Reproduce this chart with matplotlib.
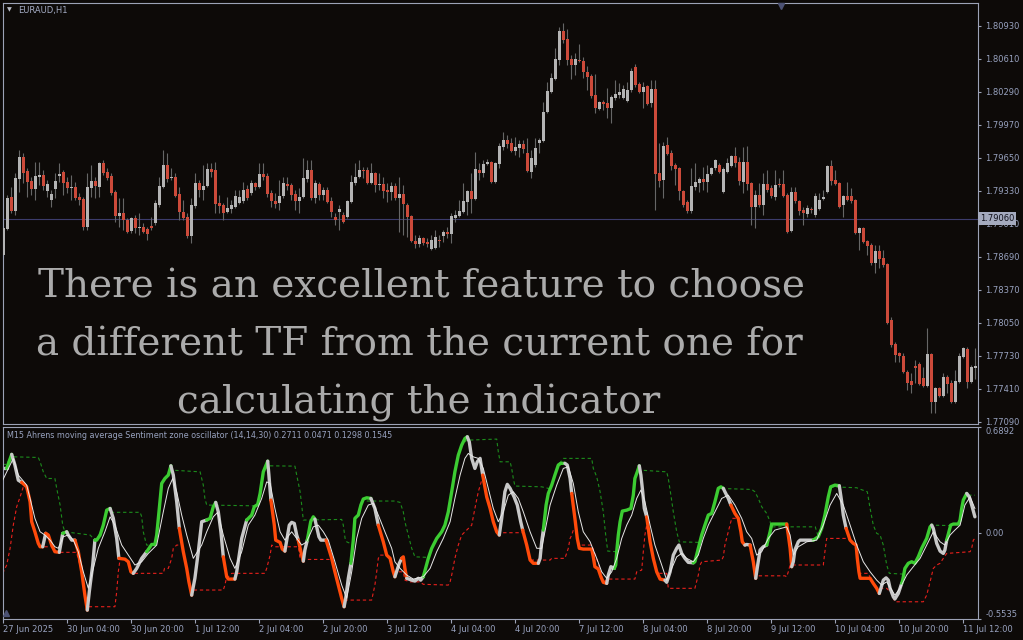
import numpy as np
import matplotlib
matplotlib.use('Agg')
import matplotlib.pyplot as plt

# EURAUD H1 candles, 27 Jun 2025 12:00 .. 11 Jul 2025 (one value per bar)
open_ = [
    1.78707, 1.78959, 1.79269, 1.79133, 1.79444, 1.79656, 1.79521, 1.79424, 1.79347, 1.79463,
    1.79483, 1.79327, 1.79240, 1.79347, 1.79473, 1.79512, 1.79415, 1.79356, 1.79366, 1.79269,
    1.79250, 1.78978, 1.79356, 1.79424, 1.79366, 1.79598, 1.79512, 1.79473, 1.79318, 1.79085,
    1.79114, 1.79046, 1.78939, 1.79066, 1.78968, 1.78978, 1.78959, 1.78988, 1.79017, 1.79192,
    1.79366, 1.79579, 1.79453, 1.79463, 1.79298, 1.79124, 1.79075, 1.78891, 1.79182, 1.79405,
    1.79337, 1.79376, 1.79540, 1.79531, 1.79211, 1.79192, 1.79124, 1.79153, 1.79172, 1.79211,
    1.79230, 1.79347, 1.79308, 1.79405, 1.79366, 1.79492, 1.79473, 1.79308, 1.79230, 1.79211,
    1.79279, 1.79395, 1.79386, 1.79298, 1.79230, 1.79269, 1.79444, 1.79531, 1.79259, 1.79395,
    1.79289, 1.79337, 1.79230, 1.79075, 1.79124, 1.79095, 1.79075, 1.79221, 1.79405, 1.79463,
    1.79531, 1.79531, 1.79405, 1.79502, 1.79386, 1.79395, 1.79337, 1.79318, 1.79376, 1.79259,
    1.79298, 1.79192, 1.79085, 1.78842, 1.78813, 1.78871, 1.78833, 1.78765, 1.78775, 1.78852,
    1.78891, 1.78930, 1.78910, 1.79066, 1.79085, 1.79124, 1.79221, 1.79327, 1.79250, 1.79531,
    1.79502, 1.79589, 1.79608, 1.79415, 1.79589, 1.79753, 1.79821, 1.79792, 1.79714, 1.79743,
    1.79782, 1.79695, 1.79512, 1.79579, 1.79792, 1.79811, 1.80093, 1.80287, 1.80413, 1.80597,
    1.80878, 1.80801, 1.80607, 1.80549, 1.80597, 1.80587, 1.80481, 1.80442, 1.80258, 1.80122,
    1.80190, 1.80180, 1.80132, 1.80228, 1.80258, 1.80228, 1.80199, 1.80306, 1.80529, 1.80364,
    1.80287, 1.80345, 1.80180, 1.80316, 1.79502, 1.79434, 1.79773, 1.79695, 1.79579, 1.79549,
    1.79327, 1.79221, 1.79133, 1.79366, 1.79405, 1.79444, 1.79415, 1.79492, 1.79549, 1.79579,
    1.79318, 1.79512, 1.79569, 1.79666, 1.79608, 1.79415, 1.79608, 1.79405, 1.79172, 1.79289,
    1.79192, 1.79395, 1.79356, 1.79269, 1.79395, 1.79395, 1.79289, 1.78939, 1.79318, 1.79230,
    1.79143, 1.79104, 1.79153, 1.79095, 1.79153, 1.79250, 1.79318, 1.79569, 1.79434, 1.79405,
    1.79192, 1.79279, 1.79279, 1.79240, 1.78920, 1.78968, 1.78842, 1.78804, 1.78629, 1.78745,
    1.78677, 1.78619, 1.78076, 1.77843, 1.77756, 1.77727, 1.77572, 1.77484, 1.77630, 1.77649,
    1.77514, 1.77436, 1.77746, 1.77281, 1.77416, 1.77339, 1.77523, 1.77465, 1.77281, 1.77475,
    1.77717, 1.77795, 1.77475, 1.77610,
]
high = [
    1.78988, 1.79289, 1.79366, 1.79502, 1.79724, 1.79695, 1.79549, 1.79463, 1.79608, 1.79608,
    1.79531, 1.79434, 1.79337, 1.79502, 1.79598, 1.79531, 1.79463, 1.79483, 1.79415, 1.79308,
    1.79269, 1.79502, 1.79579, 1.79463, 1.79608, 1.79627, 1.79549, 1.79502, 1.79337, 1.79259,
    1.79259, 1.79066, 1.79075, 1.79095, 1.79114, 1.79017, 1.78978, 1.79075, 1.79240, 1.79463,
    1.79724, 1.79695, 1.79549, 1.79502, 1.79366, 1.79240, 1.79114, 1.79259, 1.79502, 1.79434,
    1.79579, 1.79598, 1.79598, 1.79608, 1.79289, 1.79211, 1.79269, 1.79240, 1.79337, 1.79337,
    1.79415, 1.79386, 1.79434, 1.79415, 1.79598, 1.79598, 1.79502, 1.79337, 1.79308, 1.79434,
    1.79463, 1.79463, 1.79405, 1.79337, 1.79356, 1.79646, 1.79627, 1.79627, 1.79434, 1.79415,
    1.79366, 1.79366, 1.79269, 1.79114, 1.79192, 1.79124, 1.79240, 1.79483, 1.79598, 1.79627,
    1.79560, 1.79560, 1.79598, 1.79512, 1.79502, 1.79463, 1.79405, 1.79415, 1.79405, 1.79463,
    1.79386, 1.79211, 1.79095, 1.78901, 1.78901, 1.78881, 1.78871, 1.78901, 1.78949, 1.78901,
    1.78949, 1.78978, 1.79114, 1.79143, 1.79240, 1.79405, 1.79337, 1.79502, 1.79705, 1.79598,
    1.79627, 1.79637, 1.79617, 1.79608, 1.79792, 1.79899, 1.79870, 1.79841, 1.79850, 1.79821,
    1.79821, 1.79841, 1.79724, 1.79841, 1.79841, 1.80190, 1.80384, 1.80471, 1.80713, 1.80917,
    1.80956, 1.80897, 1.80646, 1.80665, 1.80752, 1.80626, 1.80539, 1.80461, 1.80461, 1.80199,
    1.80209, 1.80325, 1.80258, 1.80403, 1.80374, 1.80355, 1.80384, 1.80520, 1.80559, 1.80384,
    1.80384, 1.80355, 1.80403, 1.80403, 1.79792, 1.79802, 1.79850, 1.79724, 1.79598, 1.79560,
    1.79337, 1.79240, 1.79549, 1.79598, 1.79463, 1.79560, 1.79579, 1.79560, 1.79637, 1.79598,
    1.79560, 1.79646, 1.79676, 1.79753, 1.79656, 1.79753, 1.79763, 1.79415, 1.79337, 1.79405,
    1.79502, 1.79531, 1.79386, 1.79531, 1.79453, 1.79531, 1.79308, 1.79366, 1.79366, 1.79240,
    1.79172, 1.79192, 1.79172, 1.79308, 1.79308, 1.79337, 1.79579, 1.79627, 1.79531, 1.79415,
    1.79289, 1.79415, 1.79356, 1.79250, 1.78978, 1.78978, 1.78852, 1.78823, 1.78804, 1.78804,
    1.78755, 1.78629, 1.78105, 1.77863, 1.77766, 1.77756, 1.77591, 1.77562, 1.77688, 1.77669,
    1.77620, 1.77998, 1.77756, 1.77426, 1.77426, 1.77562, 1.77543, 1.77494, 1.77591, 1.77756,
    1.77814, 1.77814, 1.77640, 1.77804,
]
low = [
    1.78687, 1.78949, 1.79114, 1.79095, 1.79318, 1.79405, 1.79269, 1.79289, 1.79240, 1.79386,
    1.79337, 1.79269, 1.79172, 1.79259, 1.79415, 1.79289, 1.79308, 1.79240, 1.79240, 1.79192,
    1.78949, 1.78949, 1.79269, 1.79259, 1.79269, 1.79483, 1.79434, 1.79289, 1.79027, 1.78978,
    1.78949, 1.78920, 1.78920, 1.78920, 1.78901, 1.78920, 1.78852, 1.78949, 1.78998, 1.79172,
    1.79356, 1.79415, 1.79434, 1.79269, 1.79046, 1.79046, 1.78871, 1.78823, 1.79163, 1.79269,
    1.79240, 1.79366, 1.79463, 1.79114, 1.79114, 1.79046, 1.79114, 1.79114, 1.79163, 1.79201,
    1.79211, 1.79240, 1.79289, 1.79337, 1.79356, 1.79434, 1.79269, 1.79172, 1.79163, 1.79143,
    1.79259, 1.79337, 1.79240, 1.79143, 1.79114, 1.79259, 1.79415, 1.79240, 1.79211, 1.79240,
    1.79240, 1.79211, 1.79075, 1.78998, 1.78949, 1.79017, 1.79066, 1.79211, 1.79386, 1.79453,
    1.79453, 1.79395, 1.79395, 1.79318, 1.79337, 1.79259, 1.79221, 1.79240, 1.79240, 1.78930,
    1.78901, 1.78881, 1.78833, 1.78775, 1.78784, 1.78804, 1.78784, 1.78755, 1.78765, 1.78784,
    1.78833, 1.78871, 1.78823, 1.79027, 1.79075, 1.79114, 1.79095, 1.79114, 1.79240, 1.79434,
    1.79463, 1.79579, 1.79405, 1.79405, 1.79549, 1.79724, 1.79743, 1.79705, 1.79676, 1.79656,
    1.79695, 1.79512, 1.79453, 1.79560, 1.79695, 1.79802, 1.80083, 1.80277, 1.80403, 1.80549,
    1.80762, 1.80549, 1.80413, 1.80452, 1.80578, 1.80422, 1.80306, 1.80228, 1.80083, 1.80112,
    1.80112, 1.80035, 1.79986, 1.80209, 1.80228, 1.80219, 1.80190, 1.80287, 1.80335, 1.80277,
    1.80132, 1.80161, 1.80141, 1.79143, 1.79366, 1.79259, 1.79676, 1.79531, 1.79386, 1.79240,
    1.79172, 1.79114, 1.79114, 1.79337, 1.79318, 1.79337, 1.79318, 1.79483, 1.79531, 1.79502,
    1.79308, 1.79502, 1.79560, 1.79560, 1.79386, 1.79308, 1.79337, 1.78998, 1.78968, 1.79172,
    1.79095, 1.79318, 1.79259, 1.79240, 1.79366, 1.79269, 1.78920, 1.78930, 1.79211, 1.79095,
    1.78998, 1.79075, 1.79114, 1.79075, 1.79143, 1.79240, 1.79308, 1.79386, 1.79386, 1.79163,
    1.79075, 1.79230, 1.79211, 1.78910, 1.78755, 1.78823, 1.78707, 1.78610, 1.78532, 1.78580,
    1.78590, 1.78037, 1.77814, 1.77669, 1.77669, 1.77562, 1.77397, 1.77368, 1.77465, 1.77446,
    1.77426, 1.77426, 1.77174, 1.77174, 1.77329, 1.77329, 1.77368, 1.77271, 1.77271, 1.77465,
    1.77708, 1.77416, 1.77465, 1.77504,
]
close = [
    1.78968, 1.79259, 1.79133, 1.79453, 1.79656, 1.79502, 1.79415, 1.79347, 1.79473, 1.79483,
    1.79376, 1.79395, 1.79298, 1.79424, 1.79492, 1.79405, 1.79356, 1.79366, 1.79259, 1.79240,
    1.78978, 1.79366, 1.79424, 1.79376, 1.79598, 1.79502, 1.79453, 1.79308, 1.79085, 1.79114,
    1.79046, 1.78930, 1.79066, 1.78968, 1.78978, 1.78930, 1.78910, 1.78968, 1.79211, 1.79376,
    1.79579, 1.79444, 1.79463, 1.79279, 1.79124, 1.79066, 1.78891, 1.79192, 1.79405, 1.79337,
    1.79376, 1.79540, 1.79512, 1.79201, 1.79182, 1.79114, 1.79163, 1.79192, 1.79279, 1.79269,
    1.79337, 1.79259, 1.79405, 1.79366, 1.79492, 1.79463, 1.79298, 1.79230, 1.79201, 1.79279,
    1.79405, 1.79376, 1.79289, 1.79230, 1.79269, 1.79453, 1.79531, 1.79259, 1.79405, 1.79289,
    1.79337, 1.79221, 1.79124, 1.79046, 1.79153, 1.79027, 1.79230, 1.79415, 1.79463, 1.79531,
    1.79521, 1.79405, 1.79502, 1.79386, 1.79395, 1.79327, 1.79318, 1.79376, 1.79259, 1.79298,
    1.79201, 1.79075, 1.78842, 1.78813, 1.78871, 1.78823, 1.78813, 1.78852, 1.78881, 1.78842,
    1.78930, 1.78910, 1.79085, 1.79095, 1.79133, 1.79230, 1.79327, 1.79250, 1.79540, 1.79502,
    1.79589, 1.79608, 1.79415, 1.79598, 1.79763, 1.79821, 1.79782, 1.79714, 1.79753, 1.79782,
    1.79734, 1.79521, 1.79646, 1.79743, 1.79821, 1.80093, 1.80296, 1.80422, 1.80607, 1.80878,
    1.80791, 1.80597, 1.80549, 1.80607, 1.80587, 1.80481, 1.80432, 1.80248, 1.80132, 1.80190,
    1.80170, 1.80132, 1.80238, 1.80267, 1.80287, 1.80316, 1.80306, 1.80490, 1.80355, 1.80287,
    1.80335, 1.80170, 1.80316, 1.79492, 1.79424, 1.79763, 1.79685, 1.79569, 1.79540, 1.79327,
    1.79192, 1.79133, 1.79376, 1.79415, 1.79444, 1.79415, 1.79492, 1.79549, 1.79627, 1.79512,
    1.79540, 1.79598, 1.79666, 1.79598, 1.79424, 1.79608, 1.79395, 1.79172, 1.79289, 1.79192,
    1.79395, 1.79337, 1.79279, 1.79386, 1.79386, 1.79279, 1.78930, 1.79318, 1.79230, 1.79133,
    1.79114, 1.79163, 1.79143, 1.79279, 1.79240, 1.79269, 1.79569, 1.79424, 1.79395, 1.79172,
    1.79279, 1.79240, 1.79230, 1.78920, 1.78968, 1.78833, 1.78794, 1.78629, 1.78745, 1.78668,
    1.78610, 1.78047, 1.77834, 1.77737, 1.77727, 1.77572, 1.77465, 1.77446, 1.77610, 1.77455,
    1.77436, 1.77746, 1.77281, 1.77416, 1.77339, 1.77523, 1.77455, 1.77281, 1.77484, 1.77727,
    1.77804, 1.77475, 1.77620, 1.77630,
]
bid_price = 1.79060
price_ticks = [1.80930, 1.80610, 1.80290, 1.79970, 1.79650, 1.79330, 1.79010,
               1.78690, 1.78370, 1.78050, 1.77730, 1.77410, 1.77090]

time_ticks = list(range(0, 241, 16))
time_labels = ['27 Jun 2025', '30 Jun 04:00', '30 Jun 20:00', '1 Jul 12:00', '2 Jul 04:00',
               '2 Jul 20:00', '3 Jul 12:00', '4 Jul 04:00', '4 Jul 20:00', '7 Jul 12:00',
               '8 Jul 04:00', '8 Jul 20:00', '9 Jul 12:00', '10 Jul 04:00', '10 Jul 20:00',
               '11 Jul 12:00']

# oscillator main line: bar position, value, colour of the segment leaving the point
osc_b = [
    -0.15,
    0.85,
    2.1, 2.9, 3.75,
    4.6, 5.85, 6.7, 7.1, 7.9, 8.75, 9.2,
    9.85,
    10.6, 11.25, 12.1, 12.9,
    14.0,
    14.85,
    15.85, 16.25, 17.1,
    17.9, 18.75, 19.6, 20.4,
    21.0, 21.5, 22.35,
    22.9, 23.35, 24.2, 25.0, 25.85,
    26.7, 27.5, 28.35,
    28.9, 30.4, 31.25, 31.9,
    32.5, 33.35, 34.6,
    35.85, 37.1, 37.9, 38.35, 39.0, 39.6, 40.4, 41.25,
    41.9, 42.5, 43.35,
    44.0, 45.0, 45.85, 46.4,
    47.1, 47.9, 48.75, 49.6,
    50.85, 51.7, 52.5,
    53.1, 53.75, 54.4,
    55.0, 55.85, 56.25,
    57.9, 58.35, 59.6,
    60.85, 62.1, 62.75, 63.6, 64.2, 65.0,
    66.1, 66.4,
    66.9, 67.75, 68.1, 69.2, 69.75,
    70.4, 71.5, 72.1, 72.75, 73.35,
    73.75, 74.4,
    75.0, 75.4,
    76.0, 76.85, 77.5,
    77.9, 78.9, 79.4,
    80.7, 82.1, 82.9, 83.75, 84.6,
    85.2, 85.6, 86.25,
    86.9, 87.5, 87.9, 88.75, 89.4, 90.0, 90.85,
    91.9, 92.9,
    93.75, 95.0, 95.85, 96.7, 97.5,
    97.9, 99.0,
    99.6, 100.0, 100.4,
    100.85, 102.1, 102.9, 103.75, 104.35,
    105.0, 106.25, 107.1, 108.35, 109.6, 110.4, 111.25, 112.1, 112.9, 113.75, 114.6, 115.4,
    116.0, 116.5, 117.1, 117.9, 118.5, 119.2,
    119.85, 120.85, 121.7, 122.5, 123.35,
    124.0, 124.6, 125.4, 126.0, 126.7, 127.7, 128.5, 129.35,
    129.85, 130.85, 131.7, 132.5,
    133.75, 134.2, 134.6,
    135.0, 135.7, 136.25, 137.1, 137.9, 138.75, 139.35,
    140.4, 141.0, 141.7,
    142.1, 142.9, 143.5, 144.0, 145.0, 147.1, 147.5, 147.9, 148.75, 149.4, 150.0,
    150.85, 151.25, 151.9,
    152.75, 153.1, 153.35, 153.75, 154.2, 154.75, 155.85, 156.9, 157.5, 157.9, 158.5,
    159.0, 159.4, 159.85, 160.25,
    160.85, 161.7, 162.5, 163.35, 164.2,
    165.4, 165.85, 166.7, 167.5, 168.35, 168.9, 169.6, 170.4, 171.25,
    172.5, 172.9, 173.75, 174.6, 175.4, 176.25, 177.1, 177.9, 178.75, 179.4,
    180.0, 180.4, 181.25,
    181.9, 182.9, 183.75, 184.4, 184.75,
    185.4, 185.85,
    186.7, 187.5,
    188.1, 188.6, 189.2, 190.0,
    190.85, 191.7, 192.1,
    195.85, 196.25, 196.7,
    197.1, 197.5, 197.9, 198.75, 199.2,
    202.5, 203.75, 204.6, 205.4, 206.25, 206.85, 207.9,
    209.0, 209.6, 210.0,
    210.7, 211.7, 212.5, 213.2, 213.5, 213.9, 214.2, 216.7, 217.5, 218.35,
    219.0, 219.4, 220.0, 220.7, 221.25, 221.7, 222.5, 222.9, 223.75,
    224.6, 224.85, 225.4, 226.25, 227.1, 227.9, 228.75, 229.6, 230.85, 231.7,
    232.1, 232.5, 233.35, 234.2, 235.0, 235.4,
    235.85, 236.85, 237.5, 238.75, 239.2, 239.6, 240.0,
    240.85, 241.5, 242.1, 242.9,
]
osc_v = [
    0.421,
    0.421,
    0.512, 0.443, 0.345,
    0.331, 0.302, 0.205, 0.076, 0.011, -0.064, -0.086,
    -0.086,
    0.001, -0.010, -0.075, -0.118,
    -0.122,
    0.001,
    0.011, -0.010, -0.043,
    -0.043, -0.118, -0.248, -0.399,
    -0.496, -0.377, -0.204,
    -0.043, -0.043, -0.010, 0.054, 0.151,
    0.162, 0.098, -0.032,
    -0.161, -0.166, -0.183, -0.248,
    -0.258, -0.226, -0.161,
    -0.118, -0.071, -0.071, -0.010, 0.162, 0.324, 0.356, 0.378,
    0.438, 0.378, 0.205,
    0.033, -0.118, -0.226, -0.313,
    -0.399, -0.290, -0.118, 0.076,
    0.087, 0.098, 0.173,
    0.201, 0.140, 0.011,
    -0.151, -0.280, -0.295,
    -0.295, -0.248, -0.032,
    0.087, 0.119, 0.173, 0.188, 0.259, 0.399,
    0.468, 0.378,
    0.216, 0.054, -0.043, -0.058, -0.101,
    -0.114, 0.054, 0.072, 0.065, -0.010,
    -0.043, -0.118,
    -0.179, -0.107,
    -0.043, 0.076, 0.108,
    0.093, -0.021, -0.043,
    -0.043, -0.161, -0.248, -0.334, -0.420,
    -0.474, -0.420, -0.290,
    -0.193, -0.043, 0.098, 0.119, 0.184, 0.223, 0.231,
    0.227, 0.162,
    0.054, -0.054, -0.140, -0.161, -0.248,
    -0.280, -0.193,
    -0.161, -0.151, -0.226,
    -0.290, -0.302, -0.308, -0.290, -0.302,
    -0.280, -0.161, -0.096, -0.032, 0.011, 0.054, 0.140, 0.270, 0.399, 0.507, 0.572, 0.615,
    0.626, 0.593, 0.486, 0.421, 0.464, 0.486,
    0.378, 0.237, 0.162, 0.076, 0.011,
    -0.010, 0.098, 0.270, 0.318, 0.292, 0.237, 0.184, 0.076,
    0.022, -0.075, -0.172, -0.193,
    -0.193, -0.161, -0.054,
    0.022, 0.184, 0.259, 0.313, 0.378, 0.443, 0.454,
    0.454, 0.443, 0.356,
    0.259, 0.098, -0.032, -0.096, -0.101, -0.101, -0.151, -0.215, -0.230, -0.280, -0.316,
    -0.323, -0.269, -0.215,
    -0.226, -0.204, -0.118, -0.010, 0.076, 0.145, 0.151, 0.162, 0.248, 0.356, 0.399,
    0.438, 0.378, 0.270, 0.162,
    0.108, -0.054, -0.161, -0.248, -0.295,
    -0.302, -0.316, -0.248, -0.140, -0.096, -0.075, -0.129, -0.161, -0.187,
    -0.190, -0.183, -0.096, -0.010, 0.054, 0.119, 0.130, 0.205, 0.292, 0.302,
    0.292, 0.270, 0.227,
    0.184, 0.130, 0.098, 0.011, -0.054,
    -0.075, -0.071,
    -0.075, -0.183,
    -0.290, -0.204, -0.107, -0.086,
    -0.075, 0.011, 0.061,
    0.061, -0.010, -0.096,
    -0.215, -0.183, -0.107, -0.054, -0.043,
    -0.043, -0.021, 0.033, 0.119, 0.237, 0.302, 0.313,
    0.309, 0.205, 0.119,
    0.033, -0.043, -0.064, -0.075, -0.161, -0.248, -0.290, -0.290, -0.323, -0.355,
    -0.388, -0.355, -0.302, -0.287, -0.302, -0.355, -0.410, -0.424, -0.388,
    -0.323, -0.302, -0.226, -0.193, -0.183, -0.193, -0.151, -0.096, -0.032, 0.043,
    0.054, 0.033, -0.064, -0.114, -0.129, -0.107,
    -0.043, 0.054, 0.061, 0.061, 0.087, 0.162, 0.216,
    0.259, 0.237, 0.184, 0.108,
]
osc_runs = ['w', 'g', 'www', 'rrrrrrr', 'w', 'rrrr', 'w', 'g', 'www', 'rrrr', 'www', 'ggggg',
            'www', 'rrrr', 'www', 'gggggggg', 'www', 'rrrr', 'wwww', 'ggg', 'www', 'rrr', 'www',
            'gggggg', 'ww', 'rrrrr', 'wwwww', 'rr', 'ww', 'ggg', 'www', 'rrrrr', 'www', 'ggggggg',
            'ww', 'rrrrr', 'ww', 'rrr', 'wwwww', 'gggggggggggg', 'wwwwww', 'rrrrr', 'wwwwwwww',
            'rrrr', 'www', 'ggggggg', 'www', 'rrrrrrrrrrr', 'www', 'ggggggggggg', 'wwww', 'rrrrr',
            'wwwwwwwww', 'gggggggggg', 'www', 'rrrrr', 'ww', 'rr', 'wwww', 'ggg', 'rrr', 'wwwww',
            'ggggggg', 'www', 'rrrrrrrrrr', 'wwwwwwwww', 'gggggggggg', 'wwwwww', 'ggggggg', 'wwww']

# signal line
sig_b = [-0.15, 2.5, 3.75, 5.85, 7.1, 7.9, 9.2, 10.4, 11.7, 12.9, 13.75, 15.0, 16.25, 17.5,
         18.75, 20.0, 21.25, 22.5, 23.75, 25.4, 26.7, 27.9, 29.6, 31.25, 32.9, 34.6, 36.25,
         38.35, 40.0, 41.25, 42.35, 43.35, 44.6, 45.85, 47.5, 49.6, 50.85, 52.5, 53.6, 55.0,
         56.7, 57.9, 59.6, 61.25, 62.9, 64.6, 65.85, 66.7, 67.9, 69.2, 70.4, 72.1, 73.35, 74.6,
         75.85, 77.5, 78.75, 80.0, 81.25, 82.9, 84.6, 85.85, 87.1, 88.35, 89.6, 91.25, 92.5,
         93.75, 95.4, 97.1, 97.9, 99.2, 100.85, 102.5, 105.0, 106.7, 108.35, 110.0, 111.7,
         112.9, 114.2, 115.4, 116.25, 117.5, 118.75, 120.0, 121.25, 122.5, 123.75, 125.0,
         126.25, 127.5, 128.75, 130.0, 131.7, 133.35, 134.6, 135.4, 136.7, 138.35, 140.0,
         141.25, 142.5, 143.75, 145.0, 146.7, 148.35, 149.6, 150.85, 152.1, 153.35, 154.6,
         155.85, 157.1, 158.35, 159.4, 160.4, 161.7, 162.9, 164.6, 165.85, 167.1, 168.35,
         169.6, 170.85, 172.5, 173.75, 175.0, 176.25, 177.9, 179.6, 181.25, 182.9, 184.6,
         185.85, 187.1, 188.35, 189.6, 191.25, 192.9, 195.85, 196.7, 197.5, 198.75, 200.85,
         203.35, 205.0, 206.7, 208.35, 210.0, 211.7, 213.35, 215.0, 216.7, 218.35, 219.6,
         220.85, 222.1, 222.9, 224.2, 225.85, 227.5, 229.2, 230.85, 232.5, 234.2, 235.4,
         236.7, 237.9, 239.2, 240.4, 241.7, 242.9]
sig_v = [0.345, 0.486, 0.378, 0.313, 0.184, 0.098, 0.011, -0.010, -0.043, -0.086, -0.096,
         -0.021, -0.010, -0.043, -0.118, -0.248, -0.355, -0.226, -0.096, 0.011, 0.108, 0.054,
         -0.075, -0.140, -0.204, -0.183, -0.129, -0.075, 0.140, 0.292, 0.356, 0.270, 0.119,
         -0.010, -0.161, -0.075, 0.011, 0.108, 0.137, -0.010, -0.161, -0.226, -0.118, 0.054,
         0.119, 0.227, 0.334, 0.324, 0.162, 0.011, -0.043, 0.011, -0.032, -0.075, -0.054,
         0.043, 0.054, 0.011, -0.043, -0.183, -0.334, -0.420, -0.248, -0.032, 0.098, 0.184,
         0.195, 0.119, 0.011, -0.096, -0.183, -0.226, -0.269, -0.295, -0.280, -0.226, -0.118,
         -0.032, 0.076, 0.227, 0.378, 0.486, 0.518, 0.496, 0.486, 0.421, 0.292, 0.162, 0.076,
         0.140, 0.248, 0.270, 0.227, 0.140, 0.011, -0.096, -0.096, 0.011, 0.184, 0.313, 0.421,
         0.432, 0.324, 0.140, 0.011, -0.054, -0.161, -0.248, -0.290, -0.248, -0.161, -0.032,
         0.054, 0.119, 0.227, 0.281, 0.205, 0.054, -0.075, -0.204, -0.302, -0.226, -0.151,
         -0.129, -0.161, -0.183, -0.140, -0.032, 0.054, 0.140, 0.227, 0.248, 0.184, 0.098,
         0.011, -0.032, -0.140, -0.118, -0.032, 0.022, 0.043, -0.010, -0.140, -0.086, -0.054,
         -0.043, 0.054, 0.184, 0.259, 0.184, 0.054, -0.075, -0.183, -0.248, -0.302, -0.334,
         -0.313, -0.366, -0.399, -0.355, -0.269, -0.215, -0.161, -0.075, 0.011, -0.054,
         -0.075, -0.010, 0.022, 0.054, 0.184, 0.237, 0.162]

# upper sentiment zone (green dashed)
up_b = [-0.15, 0.85, 2.1, 2.9, 8.75, 9.2, 10.0, 10.85, 12.9, 13.35, 14.2, 14.85, 15.4, 21.7,
        22.5, 23.35, 25.0, 25.85, 34.2, 34.6, 35.0, 35.6, 35.85, 37.1, 37.9, 38.35, 39.0,
        39.6, 40.4, 41.25, 42.1, 49.2, 50.0, 50.4, 50.85, 62.9, 63.6, 64.2, 65.0, 66.25,
        72.9, 73.35, 74.2, 74.6, 75.0, 84.6, 85.0, 85.45, 85.85, 86.7, 87.3, 87.5, 87.9,
        88.75, 89.4, 90.0, 97.9, 99.2, 100.0, 100.4, 101.25, 102.1, 102.9, 106.25, 107.1,
        108.35, 109.6, 110.4, 111.25, 112.1, 112.9, 113.75, 114.6, 115.85, 123.35, 123.75,
        124.2, 126.7, 127.1, 127.5, 127.9, 134.6, 136.6, 137.1, 137.9, 138.75, 140.0, 147.1,
        147.5, 148.35, 149.2, 150.0, 150.6, 151.1, 153.3, 153.75, 154.2, 154.75, 155.85,
        156.9, 157.5, 157.9, 158.5, 159.2, 165.85, 166.25, 166.9, 167.5, 168.35, 169.0,
        174.3, 174.6, 175.4, 176.25, 177.1, 177.9, 178.75, 187.1, 187.9, 188.75, 189.6,
        190.85, 191.7, 192.1, 203.0, 203.35, 203.75, 204.6, 205.4, 206.25, 207.1, 213.35,
        214.2, 216.0, 216.7, 217.5, 218.35, 219.2, 220.0, 220.85, 221.5, 225.0, 225.4,
        226.25, 227.1, 227.9, 228.75, 229.6, 230.85, 231.7, 232.1, 236.9, 237.5, 238.75,
        239.2, 239.6, 240.0, 240.85, 242.9]
up_v = [0.447, 0.447, 0.512, 0.496, 0.492, 0.464, 0.399, 0.356, 0.356, 0.292, 0.184, 0.054,
        0.011, -0.010, -0.032, -0.043, 0.054, 0.137, 0.137, 0.108, 0.011, -0.054, -0.075,
        -0.075, -0.071, -0.010, 0.162, 0.324, 0.356, 0.378, 0.410, 0.399, 0.313, 0.227,
        0.184, 0.179, 0.188, 0.259, 0.399, 0.438, 0.436, 0.378, 0.270, 0.184, 0.087, 0.091,
        0.054, -0.032, -0.054, -0.064, -0.064, -0.043, 0.098, 0.119, 0.184, 0.210, 0.210,
        0.201, 0.140, 0.076, -0.010, -0.096, -0.151, -0.155, -0.096, -0.032, 0.011, 0.054,
        0.140, 0.270, 0.399, 0.507, 0.572, 0.604, 0.611, 0.529, 0.464, 0.464, 0.421, 0.356,
        0.307, 0.302, 0.290, 0.313, 0.378, 0.443, 0.486, 0.486, 0.421, 0.367, 0.270, 0.140,
        -0.010, -0.114, -0.118, -0.010, 0.076, 0.145, 0.151, 0.162, 0.248, 0.356, 0.399,
        0.410, 0.399, 0.356, 0.248, 0.140, 0.011, -0.054, -0.058, -0.010, 0.054, 0.119,
        0.130, 0.205, 0.292, 0.285, 0.270, 0.227, 0.173, 0.130, 0.076, 0.043, 0.043, 0.011,
        -0.021, 0.033, 0.119, 0.237, 0.302, 0.296, 0.287, 0.270, 0.162, 0.054, 0.001,
        -0.010, -0.075, -0.204, -0.258, -0.263, -0.226, -0.193, -0.183, -0.183, -0.151,
        -0.096, -0.032, 0.043, 0.054, 0.051, 0.061, 0.061, 0.087, 0.162, 0.216, 0.248, 0.248]

# lower sentiment zone (red dashed)
lo_b = [-0.15, 0.85, 1.7, 2.5, 3.35, 4.2, 5.0, 5.85, 6.7, 7.1, 7.9, 8.75, 9.2, 12.0, 12.9,
        14.0, 18.3, 19.6, 20.4, 21.0, 27.9, 28.35, 28.75, 29.2, 30.4, 31.25, 31.9, 32.5,
        40.0, 40.3, 41.25, 42.1, 42.5, 43.35, 44.6, 45.0, 45.85, 46.4, 47.1, 55.0, 55.4,
        55.85, 56.25, 57.1, 65.4, 65.85, 66.7, 67.1, 67.9, 73.75, 74.2, 74.6, 81.25, 82.1,
        82.9, 83.75, 84.6, 85.4, 92.1, 92.9, 93.35, 93.75, 94.2, 95.85, 96.7, 97.5, 100.0,
        100.4, 101.7, 104.2, 105.0, 111.25, 111.7, 112.1, 112.9, 113.75, 114.6, 115.85,
        117.1, 117.9, 118.75, 119.6, 120.3, 120.85, 121.7, 122.5, 123.35, 124.0, 130.0,
        130.85, 131.7, 136.7, 137.1, 140.4, 141.25, 141.7, 142.1, 142.5, 143.3, 143.5,
        144.0, 147.1, 148.75, 150.0, 151.25, 157.9, 158.35, 159.6, 160.0, 160.4, 160.85,
        161.7, 162.5, 163.35, 164.2, 165.85, 166.25, 172.9, 173.75, 174.2, 174.6, 179.6,
        180.0, 180.4, 181.25, 182.1, 183.75, 184.4, 184.75, 185.4, 186.7, 187.5, 188.1,
        195.4, 195.85, 196.25, 196.7, 205.0, 205.4, 205.85, 210.85, 211.7, 212.5, 213.2,
        213.5, 213.9, 214.2, 216.2, 217.5, 218.35, 220.85, 222.1, 222.9, 230.0, 230.85,
        231.7, 232.5, 233.35, 234.2, 235.0, 235.85, 241.7, 242.1, 242.5, 242.9]
lo_v = [-0.258, -0.204, -0.096, 0.054, 0.173, 0.237, 0.302, 0.302, 0.205, 0.076, 0.011,
        -0.064, -0.086, -0.086, -0.118, -0.122, -0.122, -0.248, -0.399, -0.474, -0.474,
        -0.377, -0.248, -0.166, -0.166, -0.183, -0.248, -0.258, -0.258, -0.226, -0.226,
        -0.161, -0.096, -0.075, -0.075, -0.118, -0.226, -0.313, -0.366, -0.366, -0.334,
        -0.280, -0.280, -0.258, -0.258, -0.226, -0.140, -0.075, -0.086, -0.086, -0.161,
        -0.168, -0.168, -0.168, -0.248, -0.334, -0.420, -0.431, -0.431, -0.334, -0.248,
        -0.161, -0.140, -0.140, -0.161, -0.248, -0.248, -0.302, -0.313, -0.313, -0.329,
        -0.334, -0.313, -0.269, -0.161, -0.075, -0.010, 0.022, 0.054, 0.162, 0.270, 0.345,
        0.345, 0.237, 0.162, 0.076, 0.011, 0.005, 0.005, -0.075, -0.172, -0.172, -0.161,
        -0.161, -0.096, -0.032, -0.010, 0.022, 0.022, -0.032, -0.075, -0.075, -0.193,
        -0.313, -0.295, -0.295, -0.248, -0.237, -0.118, -0.010, 0.054, -0.054, -0.161,
        -0.248, -0.258, -0.258, -0.355, -0.355, -0.269, -0.204, -0.183, -0.172, -0.151,
        -0.075, 0.011, 0.098, 0.098, 0.011, -0.054, -0.075, -0.075, -0.183, -0.274, -0.274,
        -0.280, -0.248, -0.204, -0.204, -0.118, -0.032, -0.032, -0.043, -0.064, -0.075,
        -0.161, -0.248, -0.258, -0.258, -0.323, -0.355, -0.355, -0.388, -0.442, -0.442,
        -0.399, -0.313, -0.226, -0.204, -0.193, -0.161, -0.129, -0.118, -0.096, -0.043,
        -0.032]

osc_top, osc_bottom = 0.6892, -0.5535

BG = '#0d0a08'
SPINE = '#9ca2b6'
TXT = '#98a2bf'
UP = '#b4b4b4'
DOWN = '#cc4a3a'
WICK = '#666666'
OSC_COL = {'g': '#3ccc32', 'r': '#ff4a0a', 'w': '#c8c8c8'}

W, H = 1023, 640
fig = plt.figure(figsize=(W / 100, H / 100), dpi=100, facecolor=BG)
ax = fig.add_axes([2.5 / W, 1 - 424 / H, 975 / W, 421 / H])
osc = fig.add_axes([2.5 / W, 1 - 619 / H, 975 / W, 192 / H])

for a in (ax, osc):
    a.set_facecolor(BG)
    for s in a.spines.values():
        s.set_color(SPINE)
        s.set_linewidth(0.8)
    a.set_xlim(-0.2, 243.55)

# candles
o = np.array(open_)
c = np.array(close)
n = min(len(o), len(c), len(high), len(low))
o, c = o[:n], c[:n]
hi = np.maximum(np.array(high[:n]), np.maximum(o, c))
lo = np.minimum(np.array(low[:n]), np.minimum(o, c))
idx = np.arange(n)
up = c >= o
ax.vlines(idx, lo, hi, color=WICK, lw=0.8, zorder=2)
body_bottom = np.minimum(o, c)
body_h = np.maximum(np.abs(c - o), 0.00008)
ax.bar(idx, body_h, bottom=body_bottom, width=0.75,
       color=np.where(up, UP, DOWN), linewidth=0, zorder=3)

ax.axhline(bid_price, color='#3c3c6c', lw=0.8, zorder=1)
ax.set_ylim(1.77068, 1.81150)
ax.set_xticks([])
ax.yaxis.tick_right()
ax.set_yticks(price_ticks)
ax.set_yticklabels([f'{p:.5f}' for p in price_ticks])
ax.tick_params(axis='y', colors=SPINE, labelcolor=TXT, labelsize=6, length=2.5,
               width=0.8, pad=3)
ax.text(1.0025, bid_price, f'{bid_price:.5f}', transform=ax.get_yaxis_transform(),
        ha='left', va='center', fontsize=6, color='#10101a', zorder=10, clip_on=False,
        bbox=dict(boxstyle='square,pad=0.25', fc='#a4aabe', ec='none'))

# oscillator
osc.plot(up_b[:min(len(up_b), len(up_v))], up_v[:min(len(up_b), len(up_v))],
         color='#1c8c1c', lw=0.8, ls=(0, (3, 2.5)), zorder=1)
osc.plot(lo_b[:min(len(lo_b), len(lo_v))], lo_v[:min(len(lo_b), len(lo_v))],
         color='#e8201c', lw=0.8, ls=(0, (3, 2.5)), zorder=1)

codes = ''.join(osc_runs)
m = min(len(osc_b), len(osc_v))
codes = (codes + 'w' * m)[:m]
start = 0
for k in range(1, m):
    if k == m - 1 or codes[k] != codes[start]:
        osc.plot(osc_b[start:k + 1], osc_v[start:k + 1], color=OSC_COL[codes[start]],
                 lw=2.4, solid_capstyle='round', solid_joinstyle='round', zorder=2)
        start = k

ms = min(len(sig_b), len(sig_v))
osc.plot(sig_b[:ms], sig_v[:ms], color='#e8e8e8', lw=0.7, zorder=3)

osc.set_ylim(osc_bottom, osc_top)
osc.yaxis.tick_right()
osc.set_yticks([osc_top, 0.0, osc_bottom])
osc.set_yticklabels([f'{osc_top:.4f}', '0.00', f'{osc_bottom:.4f}'])
for lab, va in zip(osc.get_yticklabels(), ['top', 'center', 'bottom']):
    lab.set_va(va)
osc.tick_params(axis='y', colors=SPINE, labelcolor=TXT, labelsize=6, length=2.5,
                width=0.8, pad=3)
osc.set_xticks(time_ticks)
osc.set_xticklabels(time_labels)
for lab in osc.get_xticklabels():
    lab.set_ha('left')
osc.tick_params(axis='x', colors=SPINE, labelcolor=TXT, labelsize=6, length=3,
                width=0.8, pad=1.5)

# captions
fig.text(9 / W, 1 - 10 / H, '\u25bc', fontsize=4.5, color='#b8bcc8', ha='center', va='center')
fig.text(18 / W, 1 - 10 / H, 'EURAUD,H1', fontsize=6, color='#a4acc4', ha='left', va='center')
fig.text(7 / W, 1 - 435 / H,
         'M15 Ahrens moving average Sentiment zone oscillator (14,14,30) 0.2711 0.0471 0.1298 0.1545',
         fontsize=5.8, color=TXT, ha='left', va='center')
ax.plot([0.7985], [0.993], marker='v', ms=5, color='#4c5274', transform=ax.transAxes,
        clip_on=False, zorder=10)
osc.plot([0.004], [0.03], marker='^', ms=4, color='#4c5274', transform=osc.transAxes,
         clip_on=False, zorder=10)

lines = ['There is an excellent feature to choose',
         'a different TF from the current one for',
         'calculating the indicator']
for txt, xc, yb in zip(lines, [421, 419.5, 419], [298, 356, 414]):
    fig.text(xc / W, 1 - yb / H, txt, fontsize=28, family='DejaVu Serif',
             color='#ababab', ha='center', va='baseline')

fig.savefig('out.png', dpi=100, facecolor=BG)
